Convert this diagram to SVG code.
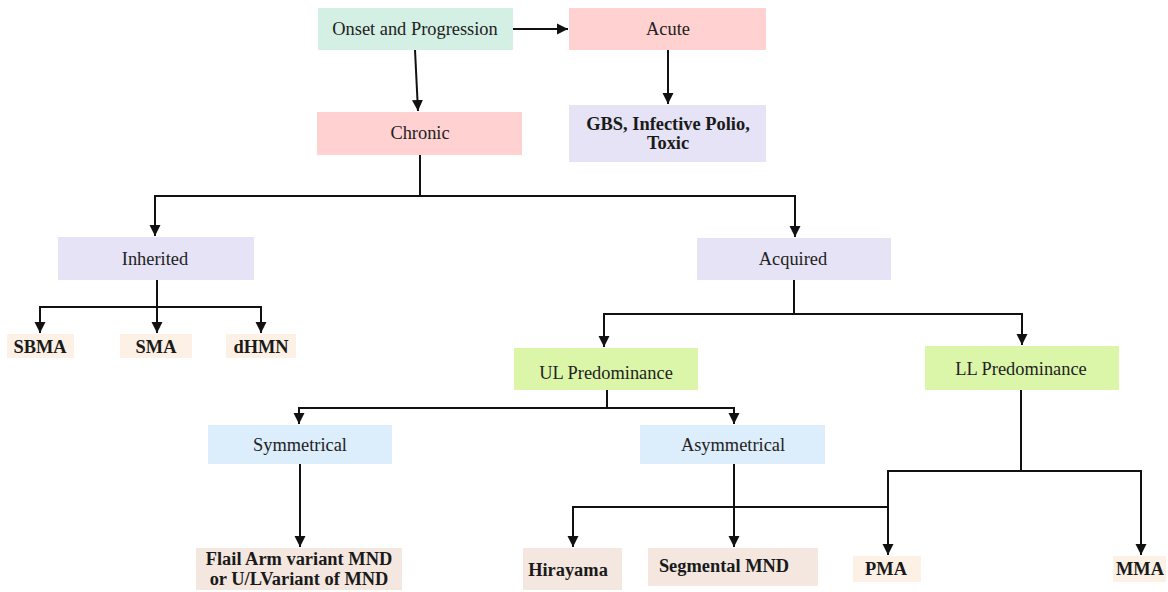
<svg xmlns="http://www.w3.org/2000/svg" width="1168" height="592" viewBox="0 0 1168 592">
<style>
.t{font-family:'Liberation Serif','Times New Roman','DejaVu Serif',serif;font-size:18.4px;fill:#222;text-anchor:middle;dominant-baseline:central}
.b{font-weight:bold;fill:#1a1a1a}
.mint{fill:#d4efe3}.pink{fill:#ffd1d1}.lav{fill:#e5e3f5}.grn{fill:#dbf6a9}.blu{fill:#dcedfb}.bei{fill:#f3e7e0}.pch{fill:#fdf1e6}
.c path{fill:none;stroke:#111;stroke-width:2;marker-end:url(#ah)}
</style>
<defs>
<marker id="ah" viewBox="0 0 10 10" refX="10" refY="5" markerWidth="11" markerHeight="12" markerUnits="userSpaceOnUse" orient="auto"><path d="M0,0 L10,5 L0,10 z" fill="#111"/></marker>
</defs>
<rect width="1168" height="592" fill="#fff"/>
<g id="onset"><rect class="mint" x="318" y="8" width="195" height="42"/><text class="t" x="415" y="29">Onset and Progression</text></g>
<g id="acute"><rect class="pink" x="569" y="8" width="197" height="42"/><text class="t" x="668" y="29">Acute</text></g>
<g id="chronic"><rect class="pink" x="317" y="112" width="205" height="43"/><text class="t" x="420" y="133">Chronic</text></g>
<g id="gbs"><rect class="lav" x="569" y="105" width="197" height="57"/><text class="t b" x="668" y="124">GBS, Infective Polio,</text><text class="t b" x="668" y="143">Toxic</text></g>
<g id="inherited"><rect class="lav" x="58" y="237" width="196" height="43"/><text class="t" x="155" y="259">Inherited</text></g>
<g id="acquired"><rect class="lav" x="697" y="238" width="194" height="42"/><text class="t" x="793" y="259">Acquired</text></g>
<g id="sbma"><rect class="pch" x="7" y="334" width="67" height="24"/><text class="t b" x="40" y="347">SBMA</text></g>
<g id="sma"><rect class="pch" x="120" y="334" width="72" height="24"/><text class="t b" x="156" y="347">SMA</text></g>
<g id="dhmn"><rect class="pch" x="226" y="334" width="70" height="24"/><text class="t b" x="261" y="347">dHMN</text></g>
<g id="ul"><rect class="grn" x="514" y="348" width="184" height="42"/><text class="t" x="606" y="373">UL Predominance</text></g>
<g id="ll"><rect class="grn" x="925" y="346" width="194" height="44"/><text class="t" x="1021" y="369">LL Predominance</text></g>
<g id="symmetrical"><rect class="blu" x="208" y="425" width="184" height="39"/><text class="t" x="300" y="445">Symmetrical</text></g>
<g id="asymmetrical"><rect class="blu" x="640" y="425" width="185" height="39"/><text class="t" x="733" y="445">Asymmetrical</text></g>
<g id="flail"><rect class="bei" x="196" y="548" width="206" height="42"/><text class="t b" x="299" y="559">Flail Arm variant MND</text><text class="t b" x="299" y="579">or U/LVariant of MND</text></g>
<g id="hirayama"><rect class="bei" x="523" y="548" width="99" height="42"/><text class="t b" x="568" y="570">Hirayama</text></g>
<g id="segmental"><rect class="bei" x="648" y="548" width="170" height="38"/><text class="t b" x="724" y="566">Segmental MND</text></g>
<g id="pma"><rect class="pch" x="853" y="556" width="68" height="26"/><text class="t b" x="886" y="569">PMA</text></g>
<g id="mma"><rect class="pch" x="1113" y="556" width="53" height="26"/><text class="t b" x="1140" y="569">MMA</text></g>
<g id="connectors" class="c">
<path d="M513,29 H568"/>
<path d="M415,50 L418,111"/>
<path d="M668,50 V104"/>
<path d="M420,155 V196 H155 V236"/>
<path d="M420,196 H795 V237"/>
<path d="M157,280 V307 H40 V333"/>
<path d="M157,307 V333"/>
<path d="M157,307 H261 V333"/>
<path d="M794,280 V314 H604 V347"/>
<path d="M794,314 H1022 V345"/>
<path d="M607,390 V408 H299 V424"/>
<path d="M607,408 H734 V424"/>
<path d="M300,464 V547"/>
<path d="M734,464 V547"/>
<path d="M888,507 H573 V547"/>
<path d="M1021,390 V471 H888 V555"/>
<path d="M1021,471 H1141 V555"/>
</g>
</svg>
